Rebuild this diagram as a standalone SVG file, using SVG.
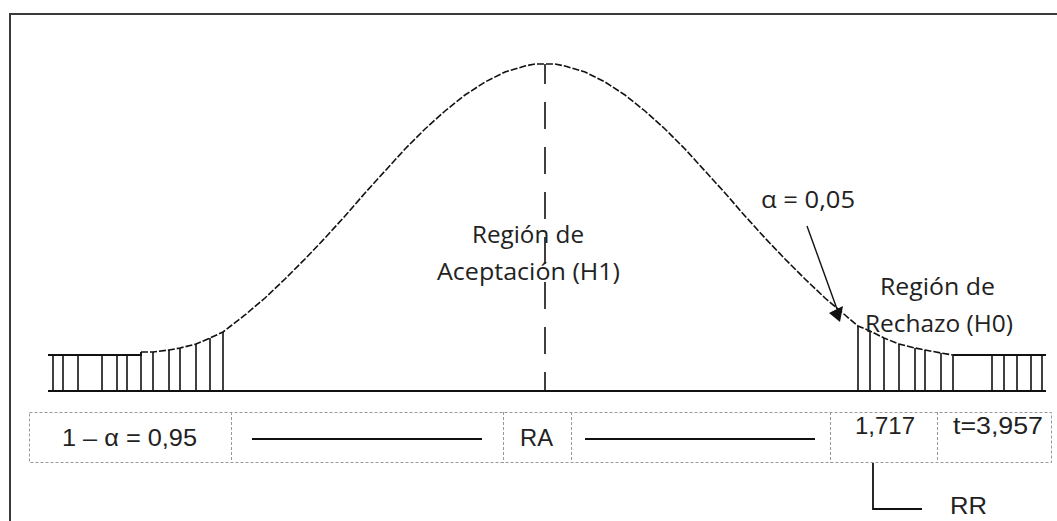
<svg xmlns="http://www.w3.org/2000/svg" width="1057" height="521" viewBox="0 0 1057 521">
<defs>
<style>
.frame{stroke:#3a3a3a;stroke-width:2;fill:none}
.base{stroke:#111;stroke-width:2;fill:none}
.hatch{stroke:#111;stroke-width:1.6;fill:none}
.curve{stroke:#111;stroke-width:1.6;fill:none;stroke-dasharray:7 2}
.axis{stroke:#111;stroke-width:1.6;fill:none;stroke-dasharray:27 18;stroke-dashoffset:7}
.cell{stroke:#999;stroke-width:1;fill:none;stroke-dasharray:3 2}
.rule{stroke:#111;stroke-width:2;fill:none}
.conn{stroke:#111;stroke-width:1.4;fill:none}
.cal{font-family:"Open Sans","Noto Sans","DejaVu Sans",sans-serif;font-size:24px;fill:#222}
.ari{font-family:"Liberation Sans",Arial,sans-serif;font-size:23px;fill:#222}
</style>
</defs>
<rect width="1057" height="521" fill="#fff"/>
<g id="frame">
<path class="frame" d="M10,521 V14 H1057"/>
</g>
<g id="distribution">
<line class="base" x1="48" y1="391" x2="1046" y2="391"/>
<path class="base" d="M48,355 H141 V352" style="stroke-width:1.8"/>
<path class="base" d="M953,355 H1046" style="stroke-width:1.8"/>
<path class="curve" d="M141,352 L153,352 L169,350 L180,348 L196,344 L210,338 L223,332 L232,325 L245,315 L265,298 L285,279 L305,259 L325,238 L345,216 L365,193 L385,171 L405,149 L425,129 L445,111 L465,95 L485,82 L505,72 L525,66 L535,64 L555,64 L565,66 L585,72 L605,82 L625,95 L645,111 L665,129 L685,149 L705,171 L725,193 L745,216 L765,238 L785,259 L805,279 L825,298 L845,315 L858,326 L870,331 L884,338 L899,344 L915,348 L925,350 L941,353 L953,355"/>
<line class="axis" x1="545" y1="64" x2="545" y2="390"/>
<g id="hatch-left" class="hatch">
<line x1="53" y1="355" x2="53" y2="391"/>
<line x1="63" y1="355" x2="63" y2="391"/>
<line x1="78" y1="355" x2="78" y2="391"/>
<line x1="102" y1="355" x2="102" y2="391"/>
<line x1="117" y1="355" x2="117" y2="391"/>
<line x1="127" y1="355" x2="127" y2="391"/>
<line x1="141" y1="352" x2="141" y2="391"/>
<line x1="153" y1="352" x2="153" y2="391"/>
<line x1="169" y1="350" x2="169" y2="391"/>
<line x1="180" y1="348" x2="180" y2="391"/>
<line x1="196" y1="344" x2="196" y2="391"/>
<line x1="210" y1="338" x2="210" y2="391"/>
<line x1="223" y1="332" x2="223" y2="391"/>
</g>
<g id="hatch-right" class="hatch">
<line x1="858" y1="326" x2="858" y2="391"/>
<line x1="870" y1="331" x2="870" y2="391"/>
<line x1="884" y1="338" x2="884" y2="391"/>
<line x1="899" y1="344" x2="899" y2="391"/>
<line x1="915" y1="348" x2="915" y2="391"/>
<line x1="925" y1="350" x2="925" y2="391"/>
<line x1="941" y1="353" x2="941" y2="391"/>
<line x1="953" y1="355" x2="953" y2="391"/>
<line x1="992" y1="355" x2="992" y2="391"/>
<line x1="1004" y1="355" x2="1004" y2="391"/>
<line x1="1017" y1="355" x2="1017" y2="391"/>
<line x1="1031" y1="355" x2="1031" y2="391"/>
<line x1="1042" y1="355" x2="1042" y2="391"/>
</g>
</g>
<g id="label-acceptance">
<text class="cal" x="472" y="243" textLength="112" lengthAdjust="spacingAndGlyphs">Región de</text>
<text class="cal" x="437" y="280" textLength="183" lengthAdjust="spacingAndGlyphs">Aceptación (H1)</text>
</g>
<g id="label-rejection">
<text class="cal" x="880" y="295" textLength="115" lengthAdjust="spacingAndGlyphs">Región de</text>
<text class="cal" x="865" y="332" textLength="148" lengthAdjust="spacingAndGlyphs">Rechazo (H0)</text>
</g>
<g id="label-alpha">
<text class="cal" x="761" y="208" textLength="94" lengthAdjust="spacingAndGlyphs">α = 0,05</text>
</g>
<g id="table">
<rect class="cell" x="29.5" y="412.5" width="1022" height="50"/>
<line class="cell" x1="231.5" y1="412" x2="231.5" y2="463"/>
<line class="cell" x1="503.5" y1="412" x2="503.5" y2="463"/>
<line class="cell" x1="571.5" y1="412" x2="571.5" y2="463"/>
<line class="cell" x1="830.5" y1="412" x2="830.5" y2="463"/>
<line class="cell" x1="937.5" y1="412" x2="937.5" y2="463"/>
<line class="rule" x1="252" y1="439" x2="482" y2="439"/>
<line class="rule" x1="585" y1="439" x2="815" y2="439"/>
<text class="ari" x="62" y="446" textLength="135" lengthAdjust="spacingAndGlyphs">1 – α = 0,95</text>
<text class="ari" x="520" y="446" textLength="33" lengthAdjust="spacingAndGlyphs">RA</text>
<text class="ari" x="855" y="434" textLength="60" lengthAdjust="spacingAndGlyphs">1,717</text>
<text class="ari" x="953" y="434" textLength="90" lengthAdjust="spacingAndGlyphs">t=3,957</text>
</g>
<g id="label-rr">
<text class="ari" x="950" y="514" textLength="37" lengthAdjust="spacingAndGlyphs">RR</text>
</g>
<g id="connectors">
<line class="conn" x1="807" y1="226" x2="837" y2="309"/>
<polygon points="829,313 843,306 840,322" fill="#111"/>
<path class="conn" d="M873,463 V509 H922" style="stroke-width:1.8"/>
</g>
</svg>
